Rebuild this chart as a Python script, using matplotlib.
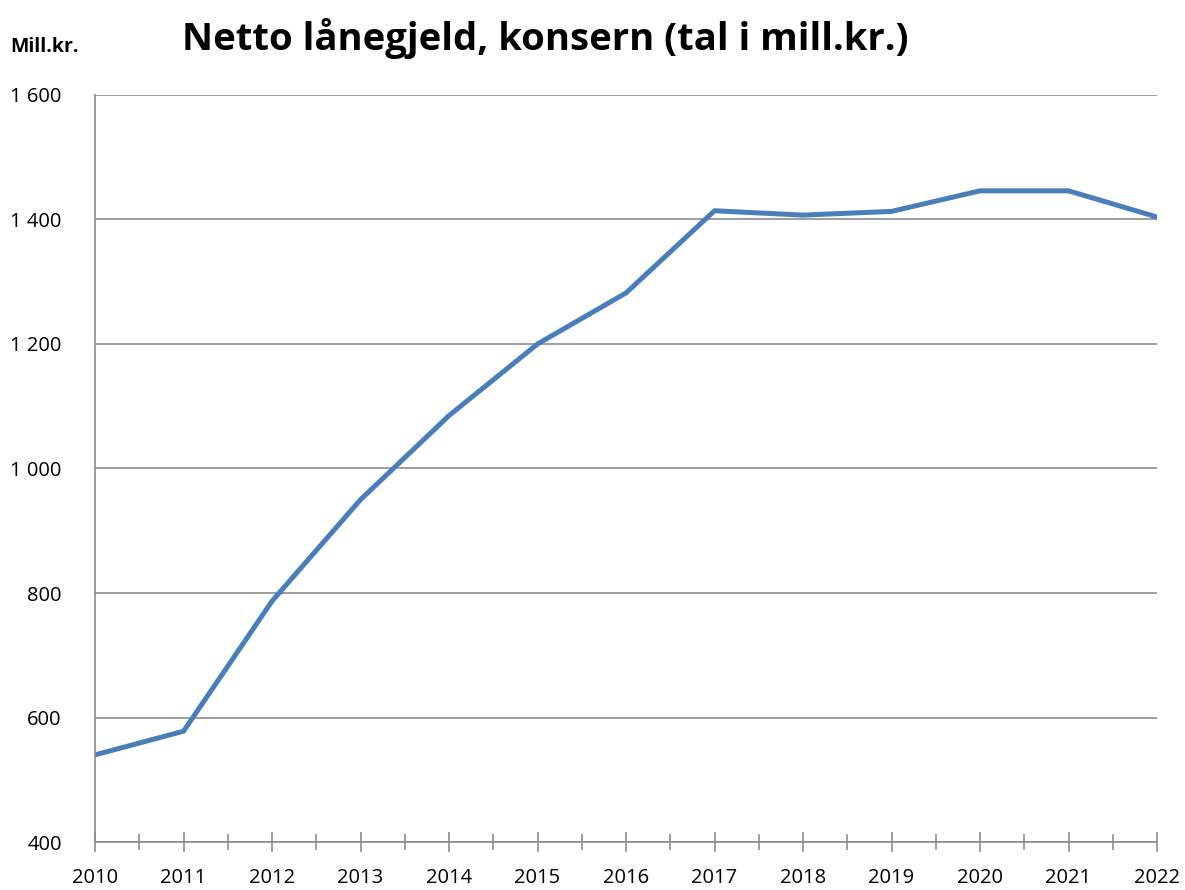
import matplotlib.pyplot as plt
from matplotlib.ticker import FuncFormatter, MultipleLocator

# Netto lånegjeld, konsern (mill. kr)
years = [2010, 2011, 2012, 2013, 2014, 2015, 2016, 2017, 2018, 2019, 2020, 2021, 2022]
debt = [540, 578, 787, 950, 1085, 1200, 1282, 1414, 1407, 1413, 1446, 1446, 1404]
yticks = [400, 600, 800, 1000, 1200, 1400, 1600]

plt.rcParams['font.family'] = ['Open Sans', 'DejaVu Sans']

fig = plt.figure(figsize=(11.85, 8.9), dpi=100)
ax = fig.add_axes([0.0802, 0.0539, 0.8962, 0.8394])

ax.plot(years, debt, color='#4a7ebb', lw=3.6, solid_joinstyle='miter')

ax.set_xlim(2010, 2022)
ax.set_ylim(400, 1600)
ax.set_yticks(yticks)
ax.yaxis.set_major_formatter(FuncFormatter(lambda v, p: f"{int(v):,}".replace(",", " ")))
ax.set_xticks(years)
ax.xaxis.set_minor_locator(MultipleLocator(0.5))

ax.grid(axis='y', color='#8c8c8c', lw=1.2)
ax.set_axisbelow(True)
for s in ['top', 'right']:
    ax.spines[s].set_visible(False)
for s in ['left', 'bottom']:
    ax.spines[s].set_color('#8c8c8c')
    ax.spines[s].set_linewidth(1.2)

ax.tick_params(axis='y', length=0, pad=24, labelsize=14.5)
ax.tick_params(axis='x', which='major', direction='inout', length=14, width=1.2,
               color='#8c8c8c', pad=12, labelsize=14.5)
ax.tick_params(axis='x', which='minor', direction='inout', length=12, width=1.2,
               color='#8c8c8c')

fig.text(0.46, 0.957, "Netto lånegjeld, konsern (tal i mill.kr.)", ha='center', va='center',
         fontsize=27.5, fontweight='bold')
fig.text(0.009, 0.947, "Mill.kr.", ha='left', va='center', fontsize=14, fontweight='bold')

fig.savefig('out.png', dpi=100)
